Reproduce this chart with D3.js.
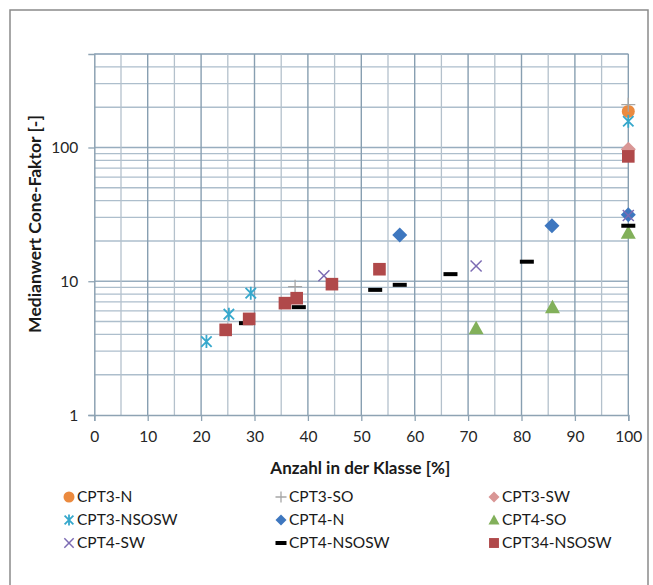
<!DOCTYPE html>
<html>
<head>
<meta charset="utf-8">
<script src="https://cdn.jsdelivr.net/npm/d3@7"></script>
<style>
  html, body { margin: 0; padding: 0; background: #fff; }
  svg { display: block; font-family: Lato, "Open Sans", sans-serif; }
</style>
</head>
<body>
<svg id="chart" width="653" height="585"></svg>
<script>
// ---------- data ----------
const xTickValues = [0, 10, 20, 30, 40, 50, 60, 70, 80, 90, 100];
const yTickValues = [1, 10, 100];
const xTitle = "Anzahl in der Klasse [%]";
const yTitle = "Medianwert Cone-Faktor [-]";

const seriesNames = ["CPT3-N", "CPT3-SO", "CPT3-SW", "CPT3-NSOSW", "CPT4-N", "CPT4-SO", "CPT4-SW", "CPT4-NSOSW", "CPT34-NSOSW"];

const cpt3N      = [[100, 186]];
const cpt3SO     = [[37.6, 9.1], [100, 209]];
const cpt3SW     = [[100, 97]];
const cpt3NSOSW  = [[21.0, 3.54], [25.2, 5.67], [29.3, 8.15], [100, 157]];
const cpt4N      = [[57.2, 22.2], [85.7, 26.0], [100, 31.4]];
const cpt4SO     = [[71.5, 4.46], [85.8, 6.40], [100, 23.0]];
const cpt4SW     = [[43.0, 11.0], [71.5, 13.0], [100, 31.0]];
const cpt4NSOSW  = [[28.4, 4.86], [38.3, 6.40], [52.6, 8.62], [57.2, 9.40], [66.7, 11.3], [81.0, 14.0], [100, 26.0]];
const cpt34NSOSW = [[24.6, 4.33], [29.0, 5.23], [35.7, 6.86], [37.9, 7.47], [44.5, 9.51], [53.4, 12.3], [100, 85.8]];

const seriesData = [cpt3N, cpt3SO, cpt3SW, cpt3NSOSW, cpt4N, cpt4SO, cpt4SW, cpt4NSOSW, cpt34NSOSW];

// ---------- styles ----------
const seriesStyle = [
  { shape: "circle",   color: "#EB8A3F" },
  { shape: "plus",     color: "#A6A6A6" },
  { shape: "diamond",  color: "#D99695" },
  { shape: "star",     color: "#36A8CC" },
  { shape: "diamond",  color: "#3E77BF" },
  { shape: "triangle", color: "#82B05A" },
  { shape: "x",        color: "#7C6BB3" },
  { shape: "dash",     color: "#000000" },
  { shape: "square",   color: "#B0494A" }
];

const svg = d3.select("#chart");
const W = 653, H = 585;
const plot = { left: 94.3, right: 628.3, top: 54, bottom: 415 };

svg.append("rect").attr("x", 0).attr("y", 0).attr("width", W).attr("height", H).attr("fill", "#fff");
// outer frame
svg.append("rect").attr("x", 10).attr("y", 10).attr("width", 638).attr("height", 600)
  .attr("fill", "none").attr("stroke", "#8a8a8a").attr("stroke-width", 1.5);

const x = d3.scaleLinear().domain([0, 100]).range([plot.left, plot.right]);
const y = d3.scaleLog().domain([1, 500]).range([plot.bottom, plot.top]);

// ---------- grid ----------
const grid = svg.append("g");
const xMinor = d3.range(5, 100, 10);
const yMinor = [];
[1, 10, 100].forEach(dec => { for (let k = 2; k <= 9; k++) { const v = dec * k; if (v <= 500) yMinor.push(v); } });

// horizontal
grid.selectAll("line.hm").data(yMinor).join("line")
  .attr("x1", plot.left).attr("x2", plot.right)
  .attr("y1", d => y(d)).attr("y2", d => y(d))
  .attr("stroke", "#adbecc").attr("stroke-width", 1.3);
grid.selectAll("line.hM").data([10, 100, 500]).join("line")
  .attr("x1", plot.left).attr("x2", plot.right)
  .attr("y1", d => y(d)).attr("y2", d => y(d))
  .attr("stroke", "#98adbe").attr("stroke-width", 1.4);
// vertical
grid.selectAll("line.vm").data(xMinor).join("line")
  .attr("y1", plot.top).attr("y2", plot.bottom)
  .attr("x1", d => x(d)).attr("x2", d => x(d))
  .attr("stroke", "#b4c1cc").attr("stroke-width", 1.3);
grid.selectAll("line.vM").data(xTickValues.slice(1)).join("line")
  .attr("y1", plot.top).attr("y2", plot.bottom)
  .attr("x1", d => x(d)).attr("x2", d => x(d))
  .attr("stroke", "#889fb1").attr("stroke-width", 1.4);

// ---------- axes ----------
const xAxis = svg.append("g").attr("transform", `translate(0,${plot.bottom})`)
  .call(d3.axisBottom(x).tickValues(xTickValues).tickSize(6).tickPadding(10).tickFormat(d3.format("d")));
const yAxis = svg.append("g").attr("transform", `translate(${plot.left},0)`)
  .call(d3.axisLeft(y).tickValues(yTickValues).tickSize(6).tickPadding(10).tickFormat(d3.format("d")));
[xAxis, yAxis].forEach(a => {
  a.select(".domain").attr("stroke", "#8ea3b3").attr("stroke-width", 1.5);
  a.selectAll(".tick line").attr("stroke", "#8ea3b3").attr("stroke-width", 1.3);
  a.selectAll(".tick text").attr("fill", "#262626").attr("font-size", 15.5).attr("font-family", "Lato, sans-serif");
});
yAxis.selectAll(".tick text").attr("dy", "0.35em");

// titles
svg.append("text").attr("x", (plot.left + plot.right) / 2 - 1).attr("y", 468).attr("dy", "0.35em")
  .attr("text-anchor", "middle").attr("font-weight", "bold").attr("font-size", 17).attr("fill", "#1a1a1a")
  .text(xTitle);
svg.append("text").attr("transform", `translate(35,224) rotate(-90)`).attr("dy", "0.35em")
  .attr("text-anchor", "middle").attr("font-weight", "bold").attr("font-size", 17.5).attr("fill", "#1a1a1a")
  .text(yTitle);

// ---------- markers ----------
function drawMarker(g, shape, color, s) {
  const h = s / 2;
  switch (shape) {
    case "circle":
      g.append("circle").attr("r", h).attr("fill", color); break;
    case "plus":
      g.append("path").attr("d", `M${-h},0H${h}M0,${-h}V${h}`).attr("stroke", color).attr("stroke-width", 1.3).attr("fill", "none"); break;
    case "diamond":
      g.append("path").attr("d", `M0,${-h}L${h},0L0,${h}L${-h},0Z`).attr("fill", color); break;
    case "star": {
      const a = h * 0.8;
      g.append("path").attr("d", `M${-a},${-a}L${a},${a}M${-a},${a}L${a},${-a}M0,${-h}V${h}`)
        .attr("stroke", color).attr("stroke-width", 1.8).attr("fill", "none"); break;
    }
    case "triangle":
      g.append("path").attr("d", `M0,${-h}L${h},${h * 0.8}L${-h},${h * 0.8}Z`).attr("fill", color); break;
    case "x": {
      const a = h * 0.85;
      g.append("path").attr("d", `M${-a},${-a}L${a},${a}M${-a},${a}L${a},${-a}`)
        .attr("stroke", color).attr("stroke-width", 1.5).attr("fill", "none"); break;
    }
    case "dash":
      g.append("rect").attr("x", -h).attr("y", -2).attr("width", s).attr("height", 4).attr("fill", color); break;
    case "square":
      g.append("rect").attr("x", -h * 0.9).attr("y", -h * 0.9).attr("width", s * 0.9).attr("height", s * 0.9).attr("fill", color); break;
  }
}

const markerSize = { circle: 13, plus: 14, diamond: 15, star: 13, triangle: 15, x: 13, dash: 14, square: 14 };
const marks = svg.append("g");
seriesData.forEach((data, i) => {
  const st = seriesStyle[i];
  data.forEach(d => {
    const g = marks.append("g").attr("transform", `translate(${x(d[0])},${y(d[1])})`);
    drawMarker(g, st.shape, st.color, markerSize[st.shape]);
  });
});

// ---------- legend ----------
const legCols = [69, 281, 494];
const legRows = [497, 520, 543];
const legend = svg.append("g");
seriesNames.forEach((name, i) => {
  const cx = legCols[i % 3], cy = legRows[Math.floor(i / 3)];
  const st = seriesStyle[i];
  const g = legend.append("g").attr("transform", `translate(${cx},${cy})`);
  drawMarker(g, st.shape, st.color, 11);
  legend.append("text").attr("x", cx + 8).attr("y", cy).attr("dy", "0.35em")
    .attr("font-size", 15.5).attr("fill", "#1a1a1a").text(name);
});
</script>
</body>
</html>
